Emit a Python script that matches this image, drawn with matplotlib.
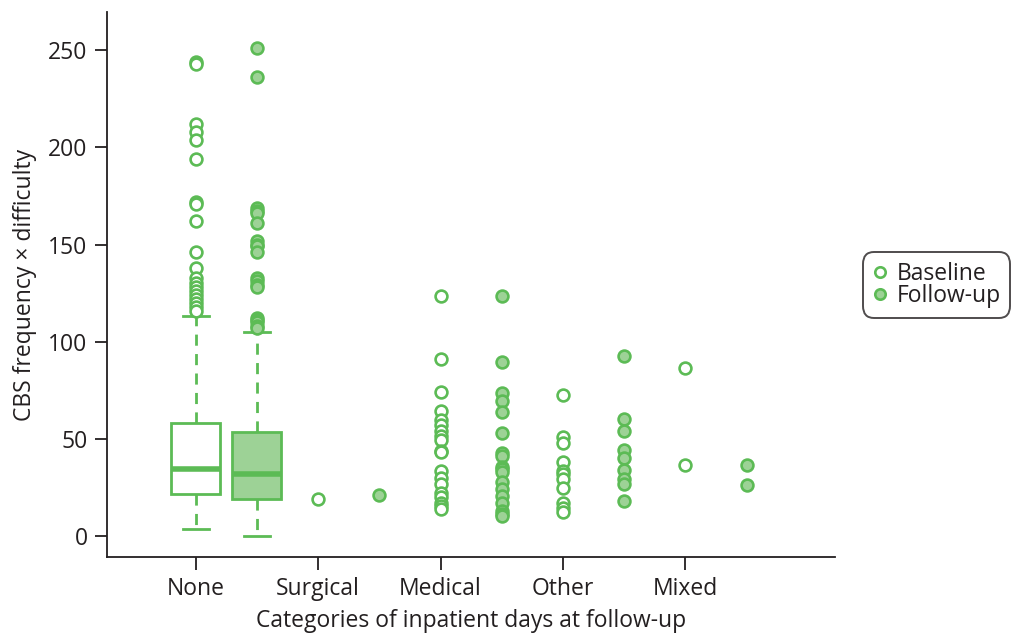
import numpy as np
import matplotlib
matplotlib.use("Agg")
import matplotlib.pyplot as plt
from matplotlib.lines import Line2D

plt.rcParams['font.family'] = ['Open Sans', 'DejaVu Sans']

categories = ['None', 'Surgical', 'Medical', 'Other', 'Mixed']

# box statistics for the "None" group (baseline, follow-up)
none_q1 = [21.6, 19.0]
none_med = [34.6, 32.2]
none_q3 = [58.4, 53.5]
none_whislo = [3.6, 0.0]
none_whishi = [113.1, 105.2]
none_fliers_base = [244, 243, 212, 208, 204, 194, 172, 171, 162, 146, 138, 133,
                    130, 128, 126, 124, 122, 120, 118, 116]
none_fliers_fu = [251, 236, 169, 167, 166, 161, 152, 150, 149, 146, 133, 131,
                  129, 128, 112, 111, 110, 108, 107]

# individual observations for the other groups
surgical_base = [19.3]
surgical_fu = [21.0]
medical_base = [123.4, 91.2, 74.1, 64.3, 60.0, 57.1, 54.0, 51.5, 49.3, 44.0, 43.5,
                33.5, 30.1, 26.7, 22.4, 20.0, 17.0, 15.6, 13.9]
medical_fu = [123.4, 89.5, 73.8, 69.5, 64.0, 53.2, 43.0, 41.2, 35.5, 34.7, 33.0,
              27.9, 24.1, 20.7, 16.9, 13.0, 11.5, 10.4]
other_base = [72.5, 51.0, 47.7, 38.1, 33.5, 31.8, 29.6, 24.8, 17.3, 14.7, 12.5]
other_fu = [92.6, 60.2, 54.1, 44.1, 40.4, 34.1, 29.6, 26.7, 18.0]
mixed_base = [86.4, 36.4]
mixed_fu = [36.4, 26.4]

green = '#5cbb55'
light_green = '#9dd296'
ink = '#231f20'
fs = 16.5

fig = plt.figure(figsize=(10.16, 6.39), dpi=100)
ax = fig.add_axes([0.1053, 0.128, 0.717, 0.853])

stats = []
for i in range(2):
    stats.append(dict(q1=none_q1[i], med=none_med[i], q3=none_q3[i],
                      whislo=none_whislo[i], whishi=none_whishi[i], fliers=[]))

bp = ax.bxp(stats, positions=[1, 2], widths=0.8, patch_artist=True,
            showfliers=False,
            boxprops=dict(edgecolor=green, linewidth=2),
            medianprops=dict(color=green, linewidth=4, solid_capstyle='butt'),
            whiskerprops=dict(color=green, linewidth=2, linestyle=(0, (4, 3))),
            capprops=dict(color=green, linewidth=2),
            capwidths=0.42)
bp['boxes'][0].set_facecolor('white')
bp['boxes'][1].set_facecolor(light_green)

ms = 8.5
mew = 1.9
base_kw = dict(marker='o', linestyle='none', markersize=ms, markerfacecolor='white',
               markeredgecolor=green, markeredgewidth=mew, zorder=3)
fu_kw = dict(marker='o', linestyle='none', markersize=ms, markerfacecolor=light_green,
             markeredgecolor=green, markeredgewidth=mew, zorder=3)

base_groups = [none_fliers_base, surgical_base, medical_base, other_base, mixed_base]
fu_groups = [none_fliers_fu, surgical_fu, medical_fu, other_fu, mixed_fu]
for k in range(5):
    ax.plot([2 * k + 1] * len(base_groups[k]), base_groups[k], **base_kw)
    ax.plot([2 * k + 2] * len(fu_groups[k]), fu_groups[k], **fu_kw)

ax.set_xlim(-0.45, 11.45)
ax.set_ylim(-10.8, 269.5)
ax.set_xticks([1, 3, 5, 7, 9])
ax.set_xticklabels(categories)
ax.set_yticks([0, 50, 100, 150, 200, 250])
for s in ['top', 'right']:
    ax.spines[s].set_visible(False)
for s in ['left', 'bottom']:
    ax.spines[s].set_linewidth(1.3)
    ax.spines[s].set_color(ink)
ax.tick_params(axis='both', length=9, width=1.3, color=ink,
               labelsize=fs, labelcolor=ink, pad=5)
ax.set_xlabel('Categories of inpatient days at follow-up', fontsize=fs,
              color=ink, labelpad=6)
ax.set_ylabel('CBS frequency \u00d7 difficulty', fontsize=fs, color=ink,
              labelpad=8)

handles = [Line2D([], [], **dict(base_kw, markersize=7.5)),
           Line2D([], [], **dict(fu_kw, markersize=7.5))]
leg = fig.legend(handles, ['Baseline', 'Follow-up'], loc='center left',
                 bbox_to_anchor=(0.856, 0.554), fontsize=fs, frameon=True,
                 fancybox=True, handlelength=0.7, handletextpad=0.4,
                 borderpad=0.1, labelspacing=-0.05, borderaxespad=0)
leg.get_frame().set_edgecolor(ink)
leg.get_frame().set_linewidth(1.4)
leg.get_frame().set_boxstyle('round', pad=0.3, rounding_size=0.5)
for t in leg.get_texts():
    t.set_color(ink)

fig.savefig('out.png', dpi=100)
